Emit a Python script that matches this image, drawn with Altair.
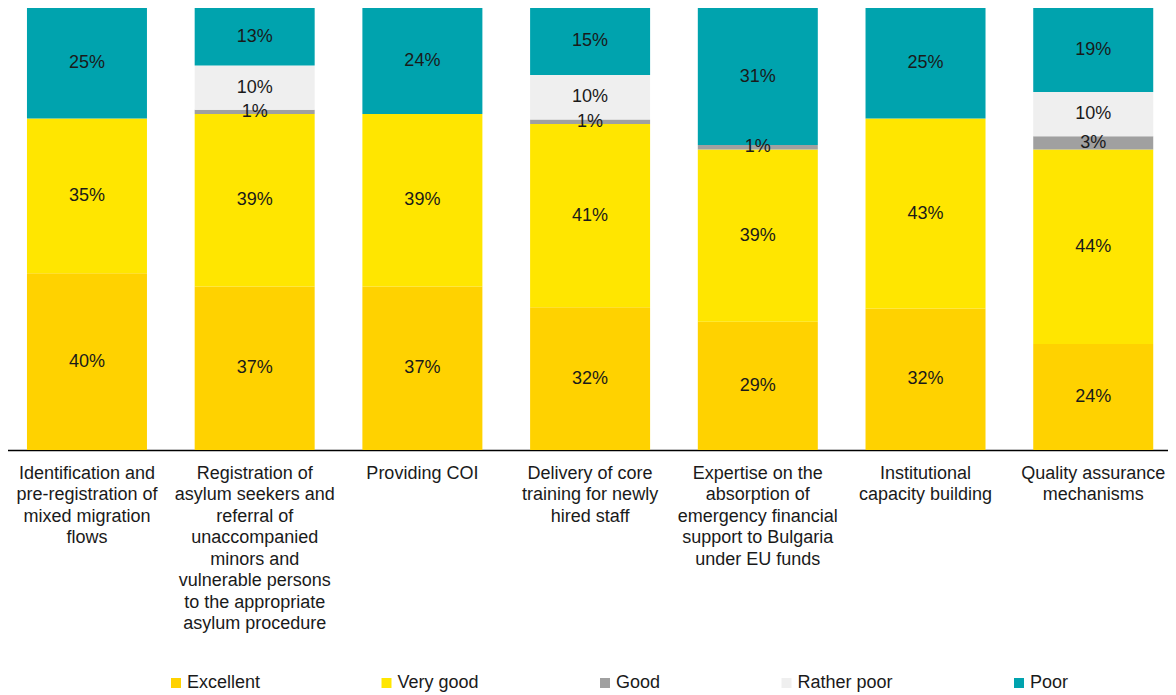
import altair as alt
import pandas as pd

categories = [
    "Identification and\npre-registration of\nmixed migration\nflows",
    "Registration of\nasylum seekers and\nreferral of\nunaccompanied\nminors and\nvulnerable persons\nto the appropriate\nasylum procedure",
    "Providing COI",
    "Delivery of core\ntraining for newly\nhired staff",
    "Expertise on the\nabsorption of\nemergency financial\nsupport to Bulgaria\nunder EU funds",
    "Institutional\ncapacity building",
    "Quality assurance\nmechanisms",
]
ratings = ["Excellent", "Very good", "Good", "Rather poor", "Poor"]
colors = ["#FFD200", "#FFE600", "#A0A0A0", "#EFEFEF", "#00A3AE"]

excellent = [40, 37, 37, 32, 29, 32, 24]
very_good = [35, 39, 39, 41, 39, 43, 44]
good = [0, 1, 0, 1, 1, 0, 3]
rather_poor = [0, 10, 0, 10, 0, 0, 10]
poor = [25, 13, 24, 15, 31, 25, 19]

series = [excellent, very_good, good, rather_poor, poor]
rows = []
for r_i, (r, vals) in enumerate(zip(ratings, series)):
    for c, v in zip(categories, vals):
        rows.append({"category": c, "rating": r, "order": r_i, "value": v})
df = pd.DataFrame(rows)

FONT = "Liberation Sans"

base = (
    alt.Chart(df)
    .transform_filter("datum.value > 0")
    .transform_stack(
        stack="value",
        groupby=["category"],
        as_=["v0", "v1"],
        offset="normalize",
        sort=[alt.SortField("order", order="ascending")],
    )
    .transform_calculate(mid="(datum.v0 + datum.v1) / 2", label="datum.value + '%'")
)

x_enc = alt.X(
    "category:N",
    sort=categories,
    scale=alt.Scale(range=[-4.85, 1169.05], paddingInner=0.2845, paddingOuter=0.142, round=False),
    axis=alt.Axis(
        title=None,
        labelAngle=0,
        ticks=False,
        labelExpr="split(datum.label, '\\n')",
        labelFontSize=18,
        labelFont=FONT,
        labelColor="#1a1a1a",
        labelLineHeight=21.5,
        labelPadding=14,
        labelBaseline="top",
        labelLimit=400,
        domainColor="#000000",
        domainWidth=1.5,
        grid=False,
    ),
)
y_scale = alt.Scale(domain=[0, 1], nice=False)

bars = base.mark_bar().encode(
    x=x_enc,
    y=alt.Y("v0:Q", scale=y_scale, axis=None),
    y2="v1:Q",
    color=alt.Color(
        "rating:N",
        scale=alt.Scale(domain=ratings, range=colors),
        legend=alt.Legend(
            title=None,
            orient="none",
            legendX=159,
            legendY=666,
            direction="horizontal",
            columns=5,
            columnPadding=116.5,
            symbolType="square",
            symbolSize=100,
            symbolStrokeWidth=0,
            labelFontSize=18,
            labelFont=FONT,
            labelColor="#1a1a1a",
            labelOffset=2,
            labelLimit=300,
            padding=0,
        ),
    ),
)

text = base.mark_text(fontSize=18, font=FONT, color="#1a1a1a", baseline="middle").encode(
    x=x_enc,
    y=alt.Y("mid:Q", scale=y_scale, axis=None),
    text="label:N",
)

chart = (
    alt.layer(bars, text)
    .properties(
        width=1160,
        height=442,
        autosize=alt.AutoSizeParams(type="none"),
        padding={"left": 0, "top": 0, "right": 0, "bottom": 245},
    )
    .configure_view(stroke=None)
)

chart.save("out.html", embed_options={"renderer": "svg", "actions": False})
